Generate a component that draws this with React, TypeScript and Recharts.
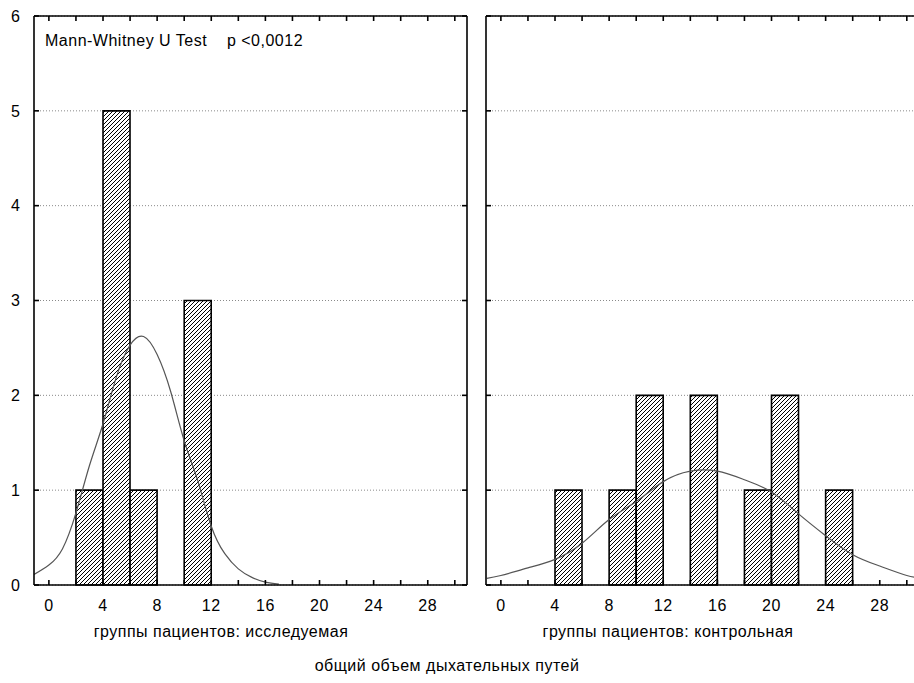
import React from 'react';
import { ComposedChart, Bar, Line, XAxis, YAxis, CartesianGrid } from 'recharts';

// ---- data ----
const xTickLabels = [0, 4, 8, 12, 16, 20, 24, 28];
const xMinorTicks = [0, 2, 4, 6, 8, 10, 12, 14, 16, 18, 20, 22, 24, 26, 28, 30];
const yTicks = [0, 1, 2, 3, 4, 5, 6];
const xDomain: [number, number] = [-1.1, 30.9];
const yDomain: [number, number] = [0, 6];

// histogram bins (centres of 2-unit bins) and counts
const leftBinCenters = [3, 5, 7, 11];
const leftCounts = [1, 5, 1, 3];
const rightBinCenters = [5, 9, 11, 15, 19, 21, 25];
const rightCounts = [1, 1, 2, 2, 1, 2, 1];

// fitted normal curves
const leftCurveX = [-1.1, 0, 1, 2, 3, 4, 5, 6, 7, 8, 9, 10, 11, 12, 13, 14, 15, 16, 17];
const leftCurveY = [0.11, 0.21, 0.38, 0.76, 1.26, 1.7, 2.2, 2.53, 2.62, 2.43, 2.04, 1.52, 1.1, 0.62, 0.33, 0.17, 0.08, 0.03, 0.01];
const rightCurveX = [-1.04, 0, 2, 4, 6, 8, 10, 12, 14, 16, 18, 20, 22, 24, 26, 28, 30, 30.9];
const rightCurveY = [0.07, 0.1, 0.18, 0.27, 0.44, 0.69, 0.88, 1.09, 1.2, 1.2, 1.11, 0.98, 0.75, 0.52, 0.32, 0.2, 0.1, 0.08];

// texts
const testLabel = 'Mann-Whitney U Test    p <0,0012';
const leftTitle = 'группы пациентов: исследуемая';
const rightTitle = 'группы пациентов: контрольная';
const mainTitle = 'общий объем дыхательных путей';

const FONT = '"Liberation Sans", Arial, sans-serif';
const frame = { stroke: '#000', strokeWidth: 1.6 };
const blank = () => '';
const PLOT_H = 569; // plot area height
const X_OFF = 15; // tickSize + tickMargin of bottom axis
const Y_OFF = 14; // tickSize + tickMargin of left axis
const IN = 5; // inner tick length

function BottomTick(props: any) {
  const { x, y, payload } = props;
  const v = payload.value;
  const labelled = xTickLabels.includes(v);
  const axisY = y - X_OFF;
  const topY = axisY - PLOT_H;
  return (
    <g>
      <line x1={x} x2={x} y1={axisY} y2={axisY - IN} stroke="#000" strokeWidth={1.6} />
      <line x1={x} x2={x} y1={topY} y2={topY + IN} stroke="#000" strokeWidth={1.6} />
      {labelled && (
        <text x={x} y={y} dy="0.71em" textAnchor="middle" fontSize={16} fontFamily={FONT} letterSpacing={0.5} fill="#000">
          {v}
        </text>
      )}
    </g>
  );
}

function LeftTick(props: any) {
  const { x, y, payload } = props;
  return (
    <g>
      <line x1={x + Y_OFF} x2={x + Y_OFF + IN} y1={y} y2={y} stroke="#000" strokeWidth={1.6} />
      <text x={x} y={y} dy="0.355em" textAnchor="end" fontSize={16} fontFamily={FONT} fill="#000">
        {payload.value}
      </text>
    </g>
  );
}

type PanelProps = {
  id: string;
  centers: number[];
  counts: number[];
  curveX: number[];
  curveY: number[];
  showYLabels: boolean;
  width: number;
  height: number;
  margin: { top: number; right: number; bottom: number; left: number };
};

function Panel({ id, centers, counts, curveX, curveY, showYLabels, width, height, margin }: PanelProps) {
  const barData = centers.map((c, i) => ({ x: c, count: counts[i] }));
  const curveData = curveX.map((x, i) => ({ x, cy: curveY[i] }));
  return (
    <ComposedChart width={width} height={height} data={barData} margin={margin} barCategoryGap={0} barGap={0}>
      <defs>
        <pattern id={`hatch-${id}`} patternUnits="userSpaceOnUse" width={4} height={4}>
          <rect width={4} height={4} fill="#fff" />
          <path d="M-1,1 l2,-2 M0,4 l4,-4 M3,5 l2,-2" stroke="#000" strokeWidth={1} />
        </pattern>
      </defs>
      <CartesianGrid xAxisId="b" yAxisId="l" vertical={false} stroke="#8a8a8a" strokeDasharray="1 2" />
      <XAxis
        xAxisId="b"
        dataKey="x"
        type="number"
        orientation="bottom"
        domain={xDomain}
        allowDataOverflow
        ticks={xMinorTicks}
        interval={0}
        tickLine={false}
        tickSize={6}
        tickMargin={9}
        height={height - margin.top - margin.bottom - PLOT_H}
        axisLine={frame}
        tick={<BottomTick />}
      />
      <XAxis
        xAxisId="t"
        dataKey="x"
        type="number"
        orientation="top"
        mirror
        domain={xDomain}
        allowDataOverflow
        ticks={xMinorTicks}
        interval={0}
        tickFormatter={blank}
        tickLine={false}
        axisLine={frame}
      />
      {showYLabels ? (
        <YAxis
          yAxisId="l"
          type="number"
          orientation="left"
          domain={yDomain}
          ticks={yTicks}
          interval={0}
          width={34}
          tickLine={false}
          tickSize={6}
          tickMargin={8}
          axisLine={frame}
          tick={<LeftTick />}
        />
      ) : (
        <YAxis
          yAxisId="l"
          type="number"
          orientation="left"
          mirror
          domain={yDomain}
          ticks={yTicks}
          interval={0}
          tickFormatter={blank}
          tickSize={IN}
          tickLine={frame}
          axisLine={frame}
        />
      )}
      <YAxis
        yAxisId="r"
        type="number"
        orientation="right"
        mirror
        domain={yDomain}
        ticks={yTicks}
        interval={0}
        tickFormatter={blank}
        tickSize={IN}
        tickLine={frame}
        axisLine={frame}
      />
      <Bar
        xAxisId="b"
        yAxisId="l"
        dataKey="count"
        fill={`url(#hatch-${id})`}
        stroke="#000"
        strokeWidth={1.6}
        isAnimationActive={false}
      />
      {/* invisible series so the top / right frame axes carry ticks */}
      <Line
        xAxisId="t"
        yAxisId="r"
        dataKey="count"
        stroke="none"
        dot={false}
        activeDot={false}
        legendType="none"
        isAnimationActive={false}
      />
      <Line
        xAxisId="t"
        yAxisId="r"
        data={curveData}
        dataKey="cy"
        type="natural"
        dot={false}
        activeDot={false}
        stroke="#555"
        strokeWidth={1.2}
        isAnimationActive={false}
      />
    </ComposedChart>
  );
}

const textBase: React.CSSProperties = {
  position: 'absolute',
  fontFamily: FONT,
  fontSize: 16,
  letterSpacing: 0.5,
  color: '#000',
  whiteSpace: 'pre',
  lineHeight: '18px',
};

export default function App() {
  return (
    <div
      style={{
        position: 'absolute',
        left: 0,
        top: 0,
        width: 914,
        height: 683,
        overflow: 'hidden',
        background: '#fff',
      }}
    >
      <div style={{ position: 'absolute', left: 0, top: 0 }}>
        <Panel
          id="l"
          centers={leftBinCenters}
          counts={leftCounts}
          curveX={leftCurveX}
          curveY={leftCurveY}
          showYLabels
          width={480}
          height={640}
          margin={{ top: 16, right: 13, bottom: 0, left: 0 }}
        />
      </div>
      <div style={{ position: 'absolute', left: 480, top: 0 }}>
        <Panel
          id="r"
          centers={rightBinCenters}
          counts={rightCounts}
          curveX={rightCurveX}
          curveY={rightCurveY}
          showYLabels={false}
          width={440}
          height={640}
          margin={{ top: 16, right: 1, bottom: 0, left: 6 }}
        />
      </div>
      <div style={{ ...textBase, left: 45, top: 32 }}>{testLabel}</div>
      <div style={{ ...textBase, left: 221, top: 623, transform: 'translateX(-50%)' }}>{leftTitle}</div>
      <div style={{ ...textBase, left: 668, top: 623, transform: 'translateX(-50%)' }}>{rightTitle}</div>
      <div style={{ ...textBase, left: 447, top: 657, transform: 'translateX(-50%)' }}>{mainTitle}</div>
    </div>
  );
}
